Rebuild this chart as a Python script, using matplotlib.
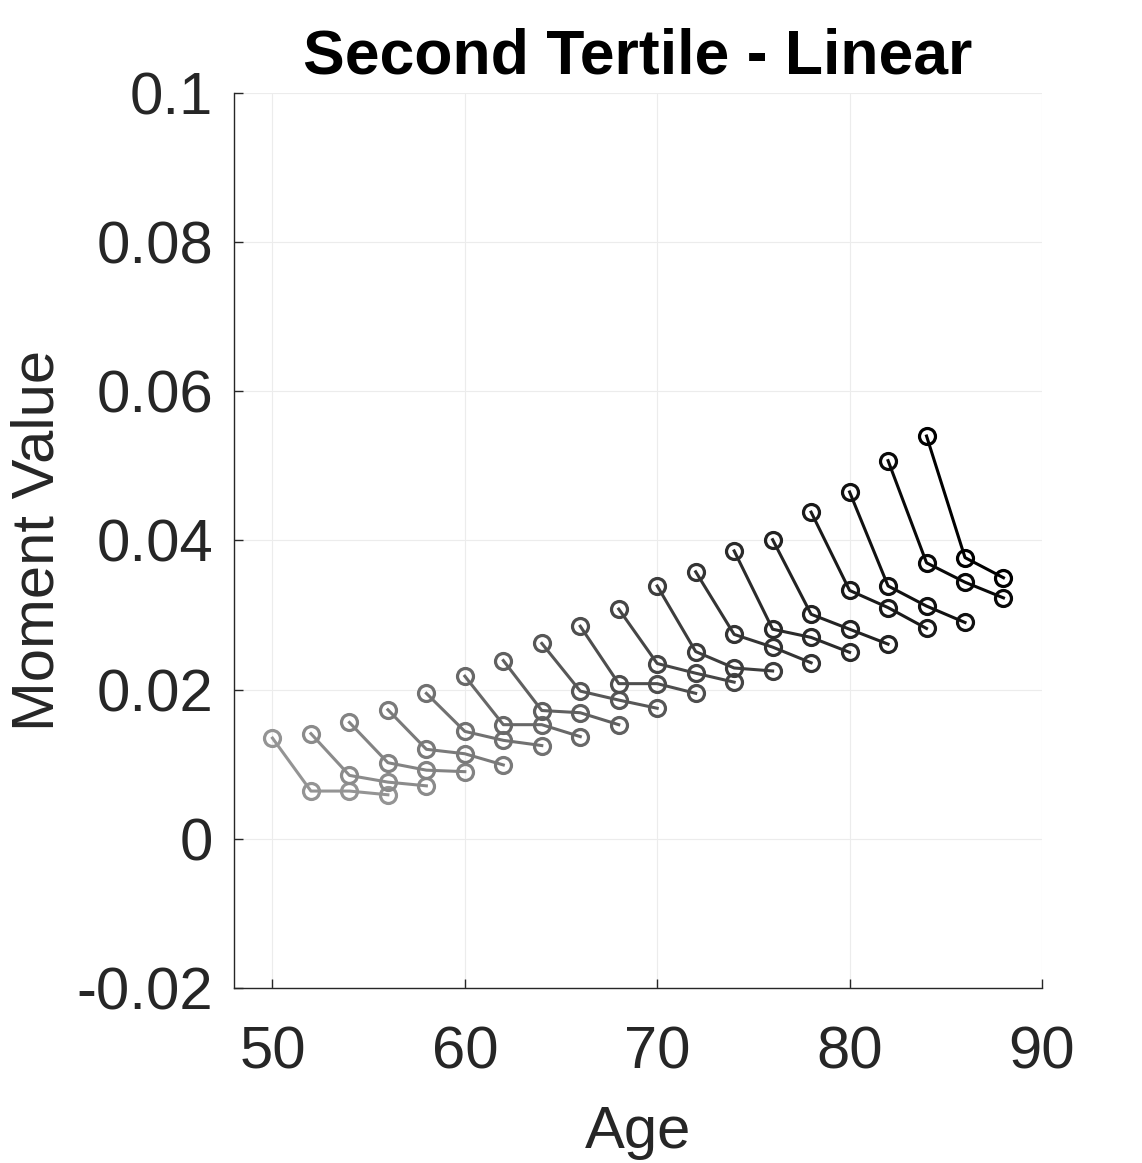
import matplotlib
matplotlib.use('Agg')
import matplotlib.pyplot as plt
import numpy as np

# start age of each cohort line, and its moment values every 2 years
start_ages = [50, 52, 54, 56, 58, 60, 62, 64, 66, 68, 70, 72, 74, 76, 78, 80, 82, 84]
moments = [
    [0.0135, 0.0064, 0.0064, 0.0059],
    [0.0141, 0.0085, 0.0076, 0.0071],
    [0.0156, 0.0102, 0.0092, 0.0090],
    [0.0173, 0.0120, 0.0114, 0.0099],
    [0.0195, 0.0144, 0.0132, 0.0125],
    [0.0218, 0.0153, 0.0153, 0.0137],
    [0.0239, 0.0172, 0.0169, 0.0153],
    [0.0262, 0.0198, 0.0186, 0.0175],
    [0.0285, 0.0208, 0.0208, 0.0195],
    [0.0308, 0.0235, 0.0222, 0.0210],
    [0.0339, 0.0251, 0.0229, 0.0225],
    [0.0358, 0.0274, 0.0257, 0.0236],
    [0.0386, 0.0281, 0.0270, 0.0250],
    [0.0401, 0.0301, 0.0281, 0.0261],
    [0.0438, 0.0333, 0.0310, 0.0282],
    [0.0465, 0.0339, 0.0312, 0.0290],
    [0.0507, 0.0370, 0.0344, 0.0323],
    [0.0540, 0.0377, 0.0350],
]
age_step = 2
x_ticks = [50, 60, 70, 80, 90]
y_ticks = [-0.02, 0, 0.02, 0.04, 0.06, 0.08, 0.1]
y_tick_labels = ['-0.02', '0', '0.02', '0.04', '0.06', '0.08', '0.1']

plt.rcParams['font.family'] = ['Liberation Sans', 'DejaVu Sans']
TXT = '#262626'

fig = plt.figure(figsize=(11.42, 11.63), dpi=100)
ax = fig.add_axes([0.2049, 0.1505, 0.7075, 0.7696])

# light gray -> black for later cohorts
shades = np.linspace(0.58, 0.0, len(start_ages))
for a0, vals, g in zip(start_ages, moments, shades):
    ages = [a0 + age_step * i for i in range(len(vals))]
    c = (g, g, g)
    ax.plot(ages, vals, color=c, linewidth=2.2, marker='o', markersize=11.5,
            markerfacecolor='none', markeredgecolor=c, markeredgewidth=2.3)

ax.set_xlim(48, 90)
ax.set_ylim(-0.02, 0.1)
ax.set_xticks(x_ticks)
ax.set_yticks(y_ticks)
ax.set_yticklabels(y_tick_labels)

ax.grid(True, color='#ececec', linewidth=0.8)
ax.set_axisbelow(True)
ax.spines['top'].set_visible(False)
ax.spines['right'].set_visible(False)
for s in ['left', 'bottom']:
    ax.spines[s].set_color(TXT)
    ax.spines[s].set_linewidth(1.0)

ax.tick_params(direction='in', length=6.5, width=1.0, color=TXT,
               labelsize=43, labelcolor=TXT)
ax.tick_params(axis='y', pad=15)
ax.tick_params(axis='x', pad=27)

ax.set_title('Second Tertile - Linear', fontsize=45, fontweight='bold', pad=14)
ax.set_xlabel('Age', fontsize=43, color=TXT, labelpad=18)
ax.set_ylabel('Moment Value', fontsize=43, color=TXT, labelpad=8)

fig.savefig('out.png', dpi=100, facecolor='white')
